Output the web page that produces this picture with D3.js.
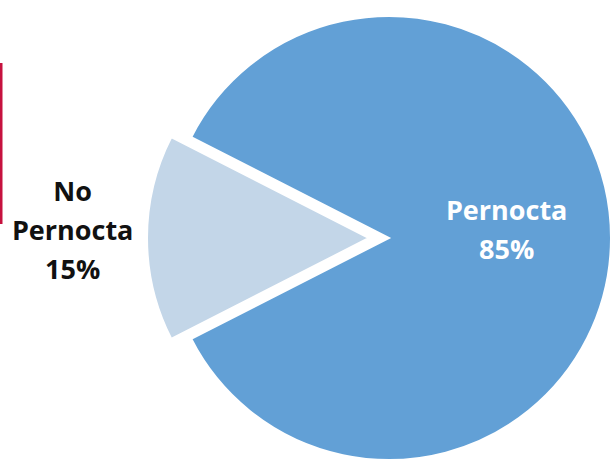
<!DOCTYPE html>
<html>
<head>
<meta charset="utf-8">
<script src="https://cdn.jsdelivr.net/npm/d3@7"></script>
<style>
  html, body { margin: 0; padding: 0; background: #fff; overflow: hidden; }
  svg { display: block; }
</style>
</head>
<body>
<svg id="chart" width="610" height="463"></svg>
<script>
// Share of visitors who stay overnight
const categories = ["Pernocta", "No Pernocta"];
const values = [85, 15];
const labels = ["85%", "15%"];
const colors = ["#62a0d6", "#c3d6e8"];

const svg = d3.select("#chart");
const cx = 389, cy = 238, r = 222;
const explode = 20;

// accent bar on the left edge
svg.append("rect")
  .attr("x", 0).attr("y", 63).attr("width", 2.5).attr("height", 161)
  .attr("fill", "#c6123f");

// the small slice sits centred on the left side (270°)
const smallSpan = values[1] / d3.sum(values) * 2 * Math.PI;
const start = 1.5 * Math.PI + smallSpan / 2;

const pie = d3.pie().sort(null).value(d => d)
  .startAngle(start).endAngle(start + 2 * Math.PI);
const arcs = pie(values);

const arc = d3.arc().innerRadius(0).outerRadius(r);

const g = svg.append("g").attr("transform", `translate(${cx},${cy})`);

const offsets = [0, explode];
g.selectAll("path.slice")
  .data(arcs)
  .join("path")
  .attr("class", "slice")
  .attr("d", arc)
  .attr("fill", (d, i) => colors[i])
  .attr("stroke", "#fff")
  .attr("stroke-width", 2)
  .attr("stroke-linejoin", "miter")
  .attr("transform", (d, i) => {
    const mid = (d.startAngle + d.endAngle) / 2;
    return `translate(${Math.sin(mid) * offsets[i]},${-Math.cos(mid) * offsets[i]})`;
  });

// label positions: inside for the large slice, outside for the small one
const labelRadius = [0.53 * r, 1.425 * r];
const fontSize = 27;
const lineH = 39;
arcs.forEach((d, i) => {
  const mid = (d.startAngle + d.endAngle) / 2;
  const lr = labelRadius[i];
  const x = Math.sin(mid) * lr;
  const y = -Math.cos(mid) * lr;
  const words = categories[i].split(" ");
  const lines = words.concat([labels[i]]);
  const t = g.append("text")
    .attr("text-anchor", "middle")
    .attr("font-family", "'Open Sans', sans-serif")
    .attr("font-weight", 700)
    .attr("font-size", fontSize)
    .attr("fill", i === 0 ? "#ffffff" : "#111111");
  const y0 = y - (lines.length - 1) * lineH / 2 + 1.5;
  lines.forEach((ln, k) => {
    t.append("tspan").attr("x", x).attr("y", y0 + k * lineH).text(ln);
  });
});
</script>
</body>
</html>
